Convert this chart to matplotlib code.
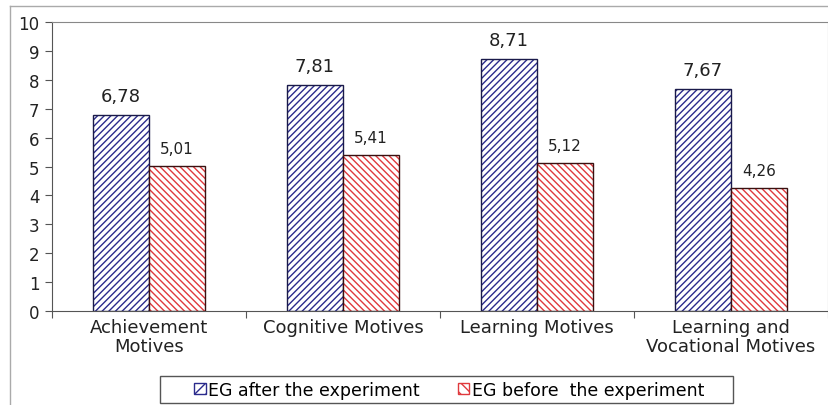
import numpy as np
import matplotlib
matplotlib.use("Agg")
import matplotlib.pyplot as plt
from matplotlib.patches import Patch, Rectangle
from matplotlib.lines import Line2D

# data
categories = ["Achievement\nMotives", "Cognitive Motives", "Learning Motives",
              "Learning and\nVocational Motives"]
after_vals = [6.78, 7.81, 8.71, 7.67]
before_vals = [5.01, 5.41, 5.12, 4.26]
series_names = ["EG after the experiment", "EG before  the experiment"]

plt.rcParams['font.family'] = ['DejaVu Sans']
plt.rcParams['hatch.linewidth'] = 1.0

fig = plt.figure(figsize=(8.29, 4.06), dpi=100)
ax = fig.add_axes([0.0627, 0.2315, 0.936, 0.7118])

x = np.arange(len(categories))
w = 0.29
blue = '#2b2b8c'
red = '#e0393d'
hatch_b = '/////'
hatch_r = '\\\\\\\\\\'

ax.bar(x - w / 2, after_vals, width=w, color='white', edgecolor=blue,
       hatch=hatch_b, linewidth=0)
ax.bar(x - w / 2, after_vals, width=w, fill=False, edgecolor='#1a1a4a', linewidth=1.0)
ax.bar(x + w / 2, before_vals, width=w, color='white', edgecolor=red,
       hatch=hatch_r, linewidth=0)
ax.bar(x + w / 2, before_vals, width=w, fill=False, edgecolor='#3a1010', linewidth=1.0)

for xi, v in zip(x, after_vals):
    ax.text(xi - w / 2, v + 0.35, f"{v:.2f}".replace('.', ','), ha='center',
            va='bottom', fontsize=13, color='#222222')
for xi, v in zip(x, before_vals):
    ax.text(xi + w / 2, v + 0.35, f"{v:.2f}".replace('.', ','), ha='center',
            va='bottom', fontsize=11, color='#222222')

ax.set_xlim(-0.5, len(categories) - 0.5)
ax.set_ylim(0, 10)
ax.set_yticks(range(0, 11))
ax.tick_params(axis='y', labelsize=12, length=5, color='#555555', pad=4,
               labelcolor='#222222')

ax.set_xticks(np.arange(len(categories) + 1) - 0.5)
ax.set_xticklabels([])
ax.set_xticks(x, minor=True)
ax.set_xticklabels(categories, minor=True, fontsize=13, color='#222222',
                   linespacing=1.05)
ax.tick_params(axis='x', which='major', length=5, color='#555555')
ax.tick_params(axis='x', which='minor', length=0, pad=5)

for s in ['left', 'bottom']:
    ax.spines[s].set_color('#555555')
for s in ['top', 'right']:
    ax.spines[s].set_color('#888888')

# outer frame lines
fig.add_artist(Line2D([0.012, 1.0], [0.983, 0.983], transform=fig.transFigure,
                      color='#aaaaaa', linewidth=1))
fig.add_artist(Line2D([0.012, 0.012], [0.0, 0.983], transform=fig.transFigure,
                      color='#aaaaaa', linewidth=1))

handles = [Patch(facecolor='white', edgecolor=blue, hatch='///', label=series_names[0]),
           Patch(facecolor='white', edgecolor=red, hatch='\\\\\\', label=series_names[1])]
fig.legend(handles=handles, loc='center', bbox_to_anchor=(0.542, 0.038), ncol=2,
           fontsize=12.5, frameon=False,
           handlelength=0.65, handleheight=0.65, handletextpad=0.15,
           columnspacing=2.2, borderpad=0.3, borderaxespad=0)
fig.add_artist(Rectangle((160 / 829, 1 - 404 / 406), 573 / 829, 27 / 406,
                         transform=fig.transFigure, fill=False,
                         edgecolor='#555555', linewidth=1))

fig.savefig("out.png", dpi=100)
